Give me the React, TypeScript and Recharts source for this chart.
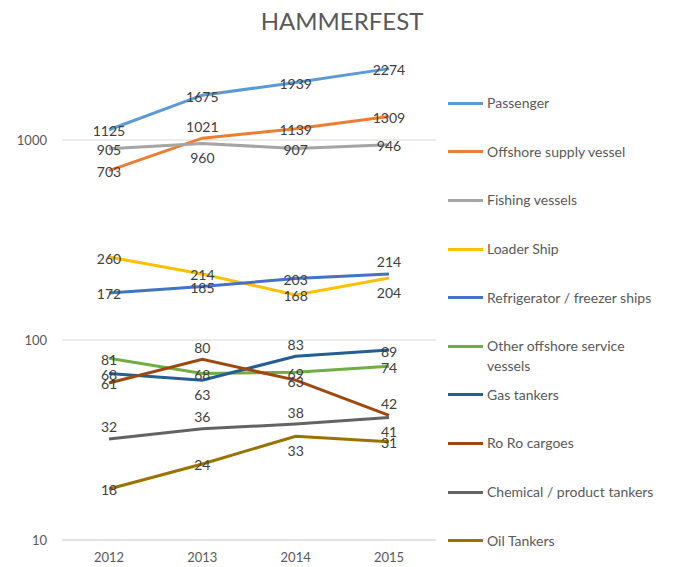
import { LineChart, Line, XAxis, YAxis, CartesianGrid, LabelList } from 'recharts';

const years = ['2012', '2013', '2014', '2015'];

const passenger = [1125, 1675, 1939, 2274];
const offshoreSupply = [703, 1021, 1139, 1309];
const fishing = [905, 960, 907, 946];
const loader = [260, 214, 168, 204];
const refrigerator = [172, 185, 203, 214];
const otherOffshore = [81, 68, 69, 74];
const gasTankers = [68, 63, 83, 89];
const roRo = [61, 80, 63, 42];
const chemical = [32, 36, 38, 41];
const oilTankers = [18, 24, 33, 31];

const yTicks = [10, 100, 1000];

// c = on the point, a = above, b = below
const series = [
  { key: 'passenger', name: 'Passenger', values: passenger, color: '#5B9BD5', pos: 'cccc' },
  { key: 'offshoreSupply', name: 'Offshore supply vessel', values: offshoreSupply, color: '#ED7D31', pos: 'cacc' },
  { key: 'fishing', name: 'Fishing vessels', values: fishing, color: '#A5A5A5', pos: 'cbcc' },
  { key: 'loader', name: 'Loader Ship', values: loader, color: '#FFC000', pos: 'cccb' },
  { key: 'refrigerator', name: 'Refrigerator / freezer ships', values: refrigerator, color: '#4472C4', pos: 'ccca' },
  { key: 'otherOffshore', name: 'Other offshore service vessels', values: otherOffshore, color: '#70AD47', pos: 'cccc' },
  { key: 'gasTankers', name: 'Gas tankers', values: gasTankers, color: '#255E91', pos: 'cbac' },
  { key: 'roRo', name: 'Ro Ro cargoes', values: roRo, color: '#9E480E', pos: 'cata' },
  { key: 'chemical', name: 'Chemical / product tankers', values: chemical, color: '#636363', pos: 'aaab' },
  { key: 'oilTankers', name: 'Oil Tankers', values: oilTankers, color: '#997300', pos: 'ccbc' },
];

const data = years.map((year, i) => {
  const row: Record<string, string | number> = { year };
  series.forEach((s) => { row[s.key] = s.values[i]; });
  return row;
});

const FONT = 'Lato, "Open Sans", sans-serif';

function makeLabel(pos: string) {
  return (props: any) => {
    const { x, y, value, index } = props;
    const p = pos[index];
    const dy = p === 'a' ? -12 : p === 'b' ? 14 : 1;
    return (
      <text
        x={x}
        y={y + dy}
        textAnchor="middle"
        dominantBaseline="central"
        fill="#404040"
        fontSize={14}
        fontFamily={FONT}
      >
        {value}
      </text>
    );
  };
}

export default function App() {
  return (
    <div style={{ position: 'absolute', left: 0, top: 0, width: 673, height: 567, background: '#fff', fontFamily: FONT }}>
      <div style={{ position: 'absolute', top: 6, left: 0, width: 684, textAlign: 'center', fontSize: 24, color: '#595959' }}>
        HAMMERFEST
      </div>

      <LineChart width={673} height={567} data={data} margin={{ top: 40, right: 237, bottom: 0, left: 0 }}>
        <CartesianGrid horizontal vertical={false} stroke="#D9D9D9" horizontalValues={yTicks} />
        <XAxis
          dataKey="year"
          height={27}
          padding={{ left: 47, right: 47 }}
          axisLine={{ stroke: '#D9D9D9' }}
          tickLine={false}
          tickMargin={7}
          tick={{ fill: '#595959', fontSize: 13, fontFamily: FONT }}
        />
        <YAxis
          type="number"
          scale="log"
          domain={[10, 3162]}
          ticks={yTicks}
          allowDataOverflow
          width={62}
          axisLine={false}
          tickLine={false}
          tickMargin={9}
          tick={{ fill: '#595959', fontSize: 13, fontFamily: FONT }}
        />
        {series.map((s) => (
          <Line
            key={s.key}
            type="linear"
            dataKey={s.key}
            name={s.name}
            stroke={s.color}
            strokeWidth={3}
            dot={false}
            isAnimationActive={false}
          >
            <LabelList dataKey={s.key} content={makeLabel(s.pos)} />
          </Line>
        ))}
      </LineChart>

      <div style={{ position: 'absolute', left: 448, top: 79, width: 225 }}>
        {series.map((s) => (
          <div key={s.key} style={{ height: 48.6, display: 'flex', alignItems: 'flex-start', paddingTop: 14.3, boxSizing: 'border-box' }}>
            <div style={{ width: 35, height: 3, marginTop: 8.5, background: s.color, flexShrink: 0 }} />
            <div style={{ marginLeft: 4, width: 180, fontSize: 14, lineHeight: '20px', color: '#595959' }}>{s.name}</div>
          </div>
        ))}
      </div>
    </div>
  );
}
